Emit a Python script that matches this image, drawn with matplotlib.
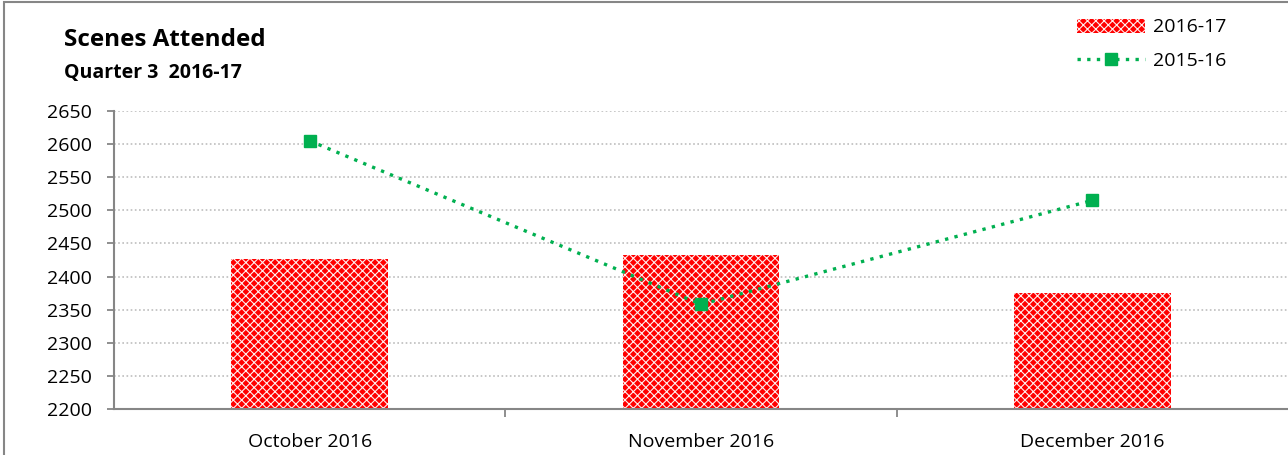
import matplotlib
matplotlib.use("Agg")
import matplotlib.pyplot as plt
from matplotlib.lines import Line2D
from matplotlib.patches import Patch, Rectangle
import numpy as np

categories = ["October 2016", "November 2016", "December 2016"]
series_2016_17 = [2426, 2433, 2375]
series_2015_16 = [2605, 2358, 2515]
yticks = [2200, 2250, 2300, 2350, 2400, 2450, 2500, 2550, 2600, 2650]

plt.rcParams['font.family'] = ['Open Sans', 'DejaVu Sans']
plt.rcParams['hatch.linewidth'] = 0.8

W, H = 1288, 455
fig = plt.figure(figsize=(W / 100, H / 100), dpi=100)
ax = fig.add_axes([114 / W, 1 - 409 / H, 1 - 114 / W, (409 - 111) / H])

GREEN = '#00B050'
LS = (0, (1, 1.9))

x = np.arange(len(categories))
ax.bar(x, [v - 2200 for v in series_2016_17], bottom=2200, width=0.40,
       color='#FF0000', edgecolor='#FFF0F0', hatch='xxxx', linewidth=0, zorder=2)
ax.plot(x, series_2015_16, color=GREEN, linestyle=LS, linewidth=2.4,
        marker='s', markersize=9, zorder=3)

ax.set_xlim(-0.5, len(categories) - 0.5)
ax.set_ylim(2200, 2650)
ax.set_yticks(yticks)
ax.set_yticklabels([str(t) for t in yticks], fontsize=14)
ax.set_xticks(x)
ax.set_xticklabels(categories, fontsize=14)
ax.tick_params(axis='x', length=0, pad=17)
ax.set_xticks([0.5, 1.5], minor=True)
ax.tick_params(axis='x', which='minor', length=6, width=1.3, color='#868686')
ax.tick_params(axis='y', length=5, width=1.3, color='#868686', pad=11)
ax.grid(axis='y', color='#BDBDBD', linestyle=(0, (1, 1.5)), linewidth=1.2, zorder=0)
ax.set_axisbelow(True)
for s in ['top', 'right']:
    ax.spines[s].set_visible(False)
for s in ['left', 'bottom']:
    ax.spines[s].set_color('#868686')
    ax.spines[s].set_linewidth(1.5)

fig.text(64 / W, 1 - 40 / H, "Scenes Attended", fontsize=17.5, fontweight='bold', va='center', ha='left')
fig.text(64 / W, 1 - 73 / H, "Quarter 3  2016-17", fontsize=14, fontweight='bold', va='center', ha='left')

handles = [Patch(facecolor='#FF0000', edgecolor='#FFF0F0', hatch='xxxx', linewidth=0),
           Line2D([0], [0], color=GREEN, linestyle=LS, linewidth=2.4,
                  marker='s', markersize=9)]
fig.legend(handles, ["2016-17", "2015-16"], loc='upper left',
           bbox_to_anchor=(1059 / W, 1 - 1 / H), frameon=False, fontsize=14,
           handlelength=3.5, handleheight=0.7, handletextpad=0.45, labelspacing=0.78)

# outer chart border (left and top visible)
fig.add_artist(Rectangle((4 / W, -0.1), 1.2, 1 - 2 / H + 0.1, transform=fig.transFigure,
                         fill=False, edgecolor='#868686', linewidth=1.5))

fig.savefig("out.png", dpi=100)
